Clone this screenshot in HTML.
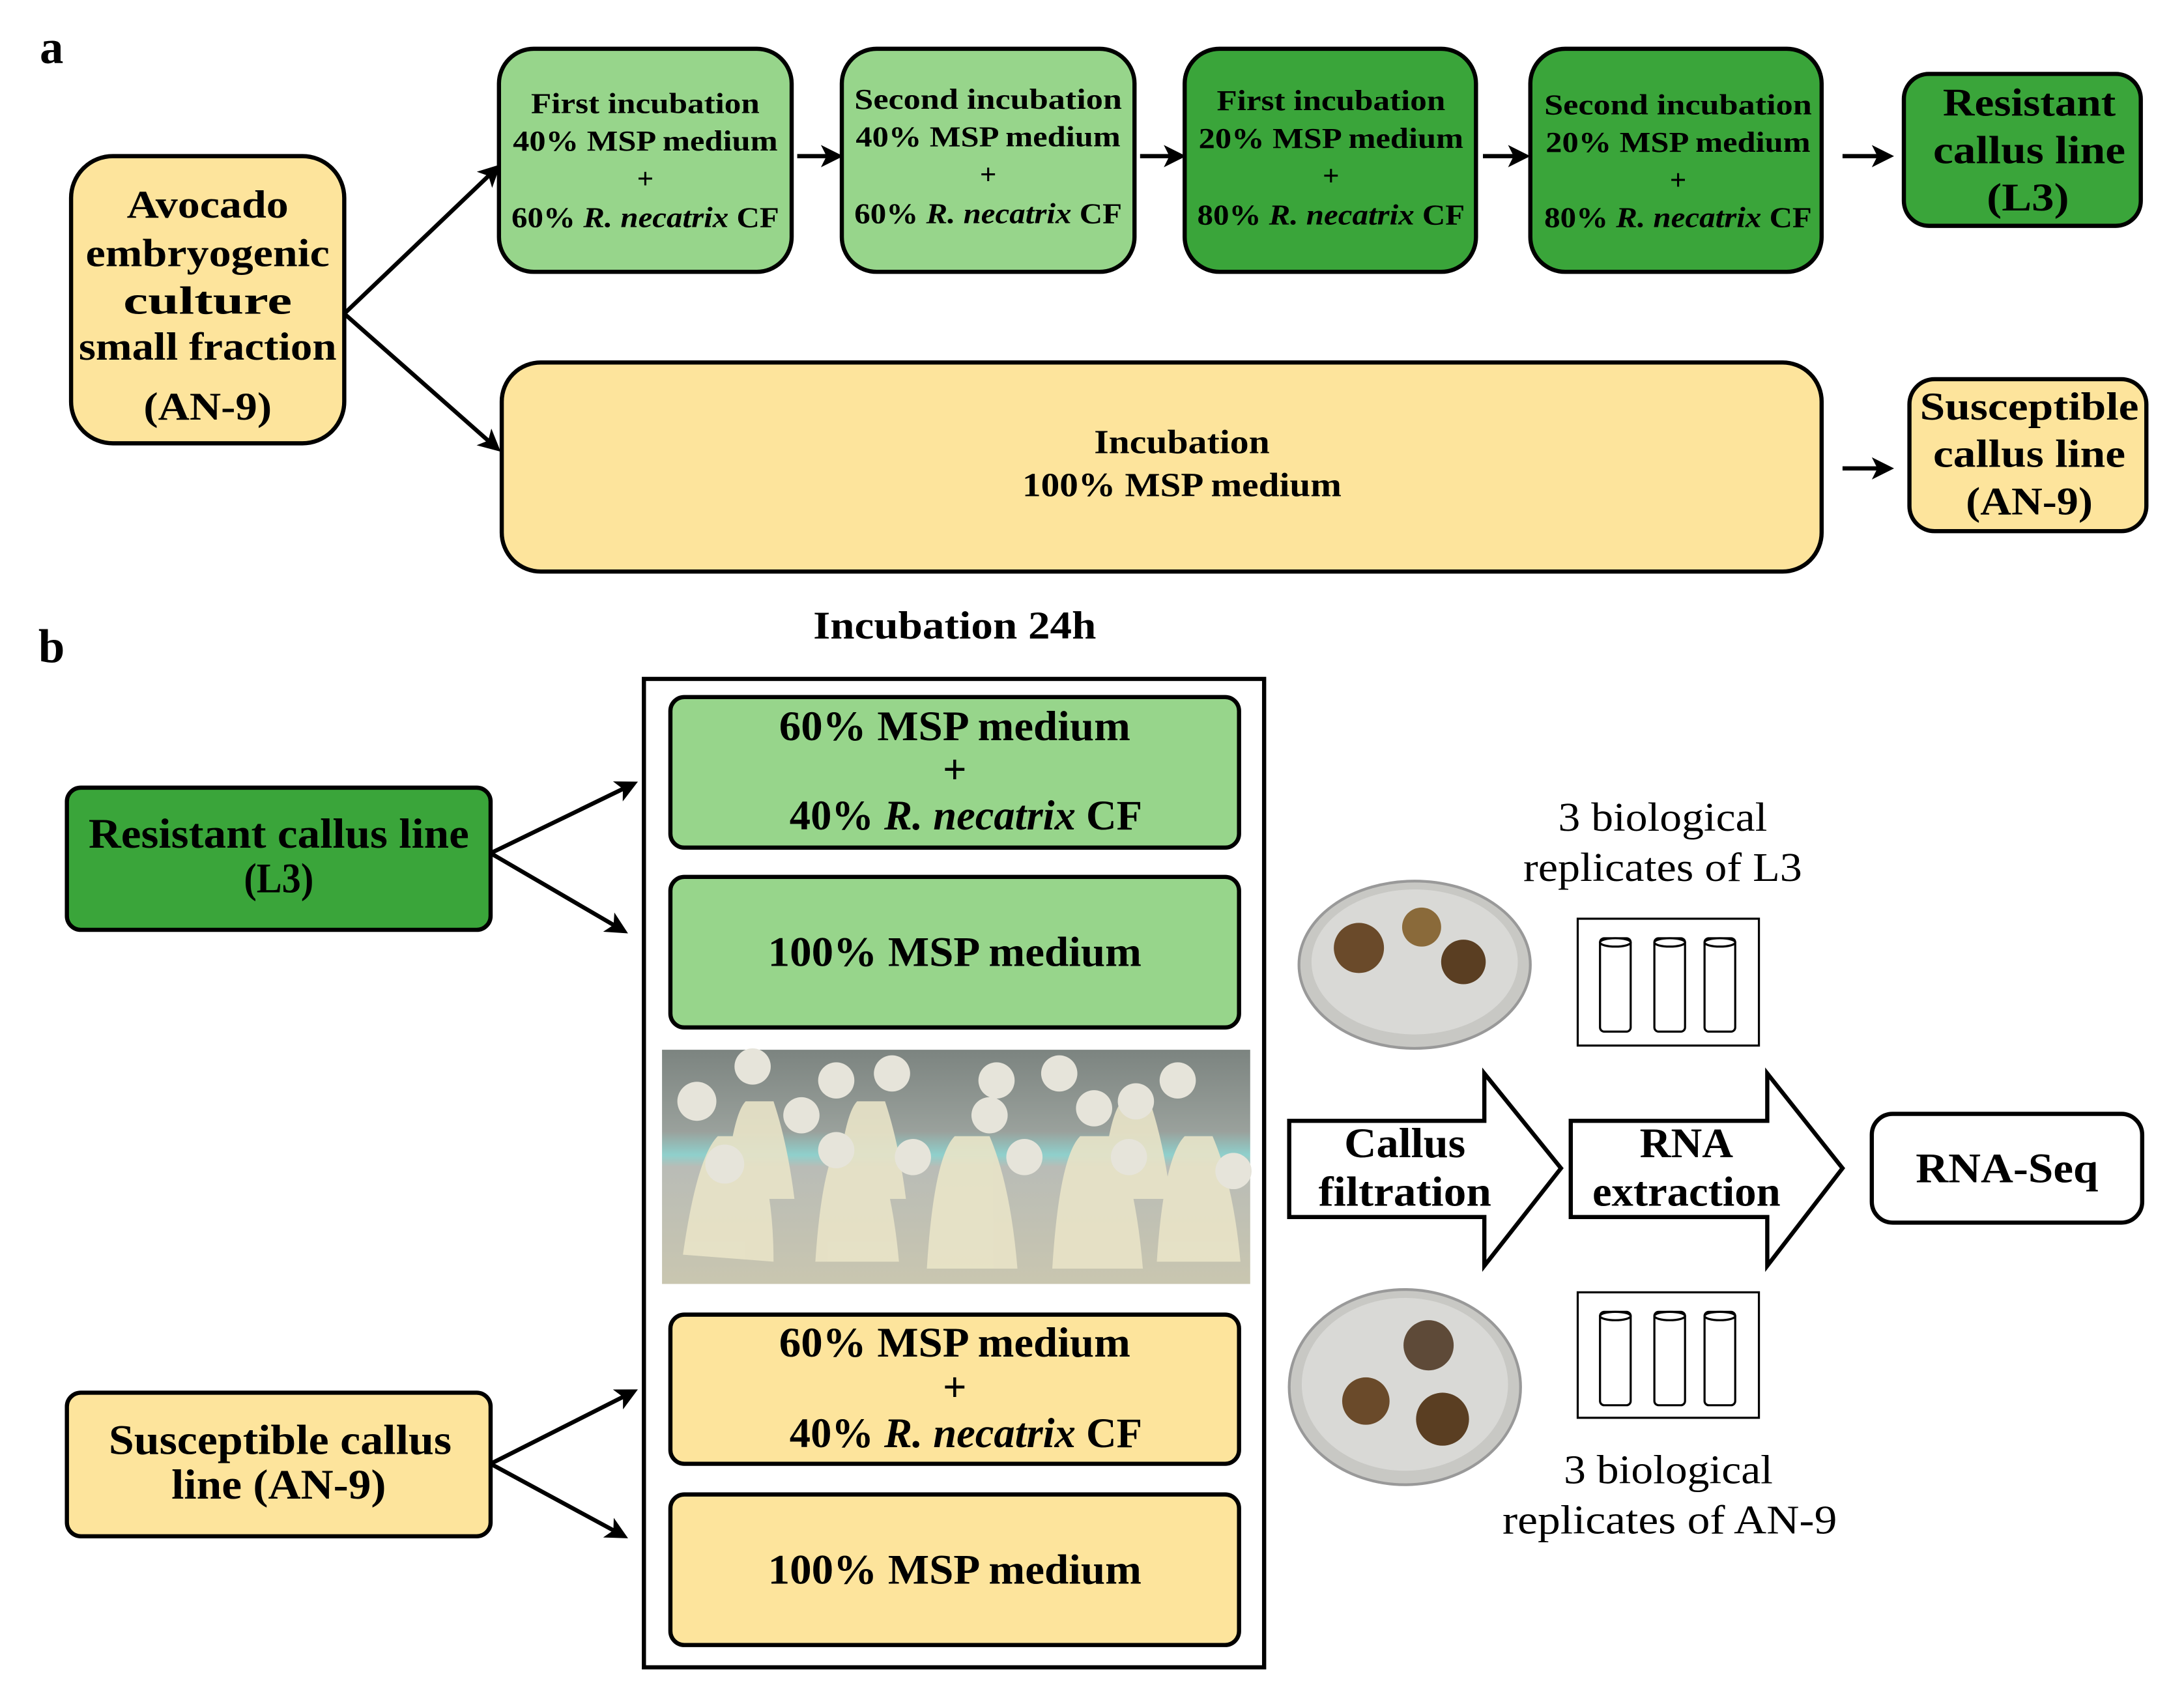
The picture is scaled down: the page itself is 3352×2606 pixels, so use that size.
<!DOCTYPE html>
<html><head><meta charset="utf-8"><style>html,body{margin:0;padding:0;background:#fff}svg{display:block}</style></head>
<body>
<svg width="3352" height="2606" viewBox="0 0 1567 1218" preserveAspectRatio="none" xmlns="http://www.w3.org/2000/svg" font-family="'Liberation Serif', serif" font-weight="bold" text-anchor="middle">
<defs>
<marker id="ah" markerWidth="16" markerHeight="16" refX="13" refY="8" orient="auto" markerUnits="userSpaceOnUse" viewBox="0 0 16 16"><path d="M0,0 L16,8 L0,16 L4,8 Z" fill="#000"/></marker>
<linearGradient id="ph" x1="0" y1="0" x2="0" y2="1"><stop offset="0" stop-color="#7c8480"/><stop offset="0.35" stop-color="#9aa19c"/><stop offset="0.45" stop-color="#8fd0cc"/><stop offset="0.5" stop-color="#b9bcb6"/><stop offset="1" stop-color="#c9c6b0"/></linearGradient>
</defs>
<text x="37" y="45" font-size="34" text-anchor="middle">a</text>
<text x="37" y="475" font-size="34">b</text>
<g stroke="#000" stroke-width="3">
<rect x="51" y="112" width="196" height="206" rx="30" fill="#fde49c"/>
<rect x="358" y="35" width="210" height="160" rx="25" fill="#97d58b"/>
<rect x="604" y="35" width="210" height="160" rx="25" fill="#97d58b"/>
<rect x="850" y="35" width="209" height="160" rx="25" fill="#3aa53a"/>
<rect x="1098" y="35" width="209" height="160" rx="25" fill="#3aa53a"/>
<rect x="1366" y="53" width="170" height="109" rx="18" fill="#3aa53a"/>
<rect x="360" y="260" width="947" height="150" rx="28" fill="#fde49c"/>
<rect x="1370" y="272" width="170" height="109" rx="18" fill="#fde49c"/>
<rect x="462" y="487" width="445" height="709" fill="none"/>
<rect x="481" y="500" width="408" height="108" rx="10" fill="#97d58b"/>
<rect x="481" y="629" width="408" height="108" rx="10" fill="#97d58b"/>
<rect x="481" y="943" width="408" height="107" rx="10" fill="#fde49c"/>
<rect x="481" y="1072" width="408" height="108" rx="10" fill="#fde49c"/>
<rect x="48" y="565" width="304" height="102" rx="10" fill="#3aa53a"/>
<rect x="48" y="999" width="304" height="103" rx="10" fill="#fde49c"/>
<rect x="1343" y="799" width="194" height="78" rx="15" fill="#fff"/>
<path d="M925,804 H1065 V770 L1120,838 L1065,908 V873 H925 Z" fill="#fff"/>
<path d="M1127,804 H1268 V770 L1322,838 L1268,908 V873 H1127 Z" fill="#fff"/>
</g>
<g stroke="#000" stroke-width="3" fill="none" marker-end="url(#ah)">
<line x1="247" y1="225" x2="357" y2="120"/>
<line x1="247" y1="225" x2="357" y2="322"/>
<line x1="572" y1="112" x2="602" y2="112"/>
<line x1="818" y1="112" x2="848" y2="112"/>
<line x1="1064" y1="112" x2="1095" y2="112"/>
<line x1="1322" y1="112" x2="1356" y2="112"/>
<line x1="1322" y1="336" x2="1356" y2="336"/>
<line x1="352" y1="612" x2="455" y2="562"/>
<line x1="352" y1="612" x2="448" y2="668"/>
<line x1="352" y1="1050" x2="455" y2="998"/>
<line x1="352" y1="1050" x2="448" y2="1102"/>
</g>
<g stroke="#000" stroke-width="1.5" fill="#fff">
<rect x="1132" y="659" width="130" height="91"/>
<rect x="1148" y="673" width="22" height="67" rx="3"/><rect x="1187" y="673" width="22" height="67" rx="3"/><rect x="1223" y="673" width="22" height="67" rx="3"/>
<ellipse cx="1159" cy="676" rx="11" ry="3"/><ellipse cx="1198" cy="676" rx="11" ry="3"/><ellipse cx="1234" cy="676" rx="11" ry="3"/>
<rect x="1132" y="927" width="130" height="90"/>
<rect x="1148" y="941" width="22" height="67" rx="3"/><rect x="1187" y="941" width="22" height="67" rx="3"/><rect x="1223" y="941" width="22" height="67" rx="3"/>
<ellipse cx="1159" cy="944" rx="11" ry="3"/><ellipse cx="1198" cy="944" rx="11" ry="3"/><ellipse cx="1234" cy="944" rx="11" ry="3"/>
</g>
<rect x="475" y="753" width="422" height="168" fill="url(#ph)"/>
<g fill="#e9e4c8" opacity="0.9">
<path d="M490,900 Q500,830 515,815 L540,815 Q555,850 555,905 Z"/><path d="M585,905 Q590,830 605,815 L625,815 Q640,850 645,905 Z"/>
<path d="M665,910 Q670,830 685,815 L710,815 Q725,850 730,910 Z"/><path d="M755,910 Q760,830 775,815 L800,815 Q815,850 820,910 Z"/>
<path d="M830,905 Q835,830 850,815 L870,815 Q885,850 890,905 Z"/>
<path d="M520,860 Q525,800 535,790 L555,790 Q565,820 570,860 Z"/><path d="M600,860 Q605,800 615,790 L635,790 Q645,820 650,860 Z"/>
<path d="M790,860 Q795,800 805,790 L825,790 Q835,820 840,860 Z"/>
</g>
<g fill="#e6e4da">
<circle cx="500" cy="790" r="14"/><circle cx="540" cy="765" r="13"/><circle cx="600" cy="775" r="13"/><circle cx="640" cy="770" r="13"/><circle cx="715" cy="775" r="13"/><circle cx="760" cy="770" r="13"/><circle cx="785" cy="795" r="13"/><circle cx="815" cy="790" r="13"/><circle cx="845" cy="775" r="13"/><circle cx="520" cy="835" r="14"/><circle cx="600" cy="825" r="13"/><circle cx="655" cy="830" r="13"/><circle cx="735" cy="830" r="13"/><circle cx="810" cy="830" r="13"/><circle cx="885" cy="840" r="13"/><circle cx="575" cy="800" r="13"/><circle cx="710" cy="800" r="13"/>
</g>
<ellipse cx="1015" cy="692" rx="83" ry="60" fill="#c8c8c4" stroke="#999" stroke-width="2"/>
<ellipse cx="1015" cy="690" rx="74" ry="52" fill="#d9d9d6"/>
<circle cx="975" cy="680" r="18" fill="#6a4a2a"/><circle cx="1020" cy="665" r="14" fill="#8a6a3a"/><circle cx="1050" cy="690" r="16" fill="#5a3e22"/>
<ellipse cx="1008" cy="995" rx="83" ry="70" fill="#c8c8c4" stroke="#999" stroke-width="2"/>
<ellipse cx="1008" cy="993" rx="74" ry="62" fill="#d9d9d6"/>
<circle cx="1025" cy="965" r="18" fill="#5e4a38"/><circle cx="980" cy="1005" r="17" fill="#6a4a2a"/><circle cx="1035" cy="1018" r="19" fill="#5a3e22"/>
<g font-size="28" lengthAdjust="spacingAndGlyphs">
<text x="149" y="156" textLength="116" lengthAdjust="spacingAndGlyphs">Avocado</text><text x="149" y="191" textLength="175" lengthAdjust="spacingAndGlyphs">embryogenic</text><text x="149" y="225" textLength="121" lengthAdjust="spacingAndGlyphs">culture</text><text x="149" y="258" textLength="185" lengthAdjust="spacingAndGlyphs">small fraction</text><text x="149" y="301" textLength="92" lengthAdjust="spacingAndGlyphs">(AN-9)</text>
<text x="1456" y="83" textLength="124" lengthAdjust="spacingAndGlyphs">Resistant</text><text x="1456" y="117" textLength="138" lengthAdjust="spacingAndGlyphs">callus line</text><text x="1455" y="151" textLength="59" lengthAdjust="spacingAndGlyphs">(L3)</text>
<text x="1456" y="301" textLength="157" lengthAdjust="spacingAndGlyphs">Susceptible</text><text x="1456" y="335" textLength="138" lengthAdjust="spacingAndGlyphs">callus line</text><text x="1456" y="369" textLength="91" lengthAdjust="spacingAndGlyphs">(AN-9)</text>
</g>
<g font-size="21">
<text x="463" y="81" textLength="164" lengthAdjust="spacingAndGlyphs">First incubation</text><text x="463" y="108" textLength="190" lengthAdjust="spacingAndGlyphs">40% MSP medium</text><text x="463" y="135">+</text><text x="463" y="163" textLength="192" lengthAdjust="spacingAndGlyphs">60% <tspan font-style="italic">R. necatrix</tspan> CF</text>
<text x="709" y="78" textLength="192" lengthAdjust="spacingAndGlyphs">Second incubation</text><text x="709" y="105" textLength="190" lengthAdjust="spacingAndGlyphs">40% MSP medium</text><text x="709" y="132">+</text><text x="709" y="160" textLength="192" lengthAdjust="spacingAndGlyphs">60% <tspan font-style="italic">R. necatrix</tspan> CF</text>
<text x="955" y="79" textLength="164" lengthAdjust="spacingAndGlyphs">First incubation</text><text x="955" y="106" textLength="190" lengthAdjust="spacingAndGlyphs">20% MSP medium</text><text x="955" y="133">+</text><text x="955" y="161" textLength="192" lengthAdjust="spacingAndGlyphs">80% <tspan font-style="italic">R. necatrix</tspan> CF</text>
<text x="1204" y="82" textLength="192" lengthAdjust="spacingAndGlyphs">Second incubation</text><text x="1204" y="109" textLength="190" lengthAdjust="spacingAndGlyphs">20% MSP medium</text><text x="1204" y="136">+</text><text x="1204" y="163" textLength="192" lengthAdjust="spacingAndGlyphs">80% <tspan font-style="italic">R. necatrix</tspan> CF</text>
</g>
<g font-size="24">
<text x="848" y="325" textLength="126" lengthAdjust="spacingAndGlyphs">Incubation</text><text x="848" y="356" textLength="229" lengthAdjust="spacingAndGlyphs">100% MSP medium</text>
</g>
<text x="685" y="458" font-size="28" textLength="203" lengthAdjust="spacingAndGlyphs">Incubation 24h</text>
<g font-size="30">
<text x="685" y="531" textLength="252" lengthAdjust="spacingAndGlyphs">60% MSP medium</text><text x="685" y="562">+</text><text x="693" y="595" textLength="253" lengthAdjust="spacingAndGlyphs">40% <tspan font-style="italic">R. necatrix</tspan> CF</text>
<text x="685" y="693" textLength="268" lengthAdjust="spacingAndGlyphs">100% MSP medium</text>
<text x="685" y="973" textLength="252" lengthAdjust="spacingAndGlyphs">60% MSP medium</text><text x="685" y="1005">+</text><text x="693" y="1038" textLength="253" lengthAdjust="spacingAndGlyphs">40% <tspan font-style="italic">R. necatrix</tspan> CF</text>
<text x="685" y="1136" textLength="268" lengthAdjust="spacingAndGlyphs">100% MSP medium</text>
<text x="200" y="608" textLength="273" lengthAdjust="spacingAndGlyphs">Resistant callus line</text><text x="200" y="640" textLength="50" lengthAdjust="spacingAndGlyphs">(L3)</text>
<text x="201" y="1043" textLength="246" lengthAdjust="spacingAndGlyphs">Susceptible callus</text><text x="200" y="1075" textLength="154" lengthAdjust="spacingAndGlyphs">line (AN-9)</text>
<text x="1008" y="830" textLength="87" lengthAdjust="spacingAndGlyphs">Callus</text><text x="1008" y="865" textLength="124" lengthAdjust="spacingAndGlyphs">filtration</text>
<text x="1210" y="830" textLength="67" lengthAdjust="spacingAndGlyphs">RNA</text><text x="1210" y="865" textLength="135" lengthAdjust="spacingAndGlyphs">extraction</text>
<text x="1440" y="848" textLength="131" lengthAdjust="spacingAndGlyphs">RNA-Seq</text>
</g>
<g font-size="29" font-weight="normal">
<text x="1193" y="596" textLength="150" lengthAdjust="spacingAndGlyphs">3 biological</text><text x="1193" y="632" textLength="200" lengthAdjust="spacingAndGlyphs">replicates of L3</text>
<text x="1197" y="1064" textLength="150" lengthAdjust="spacingAndGlyphs">3 biological</text><text x="1198" y="1100" textLength="240" lengthAdjust="spacingAndGlyphs">replicates of AN-9</text>
</g>
</svg>
</body></html>
